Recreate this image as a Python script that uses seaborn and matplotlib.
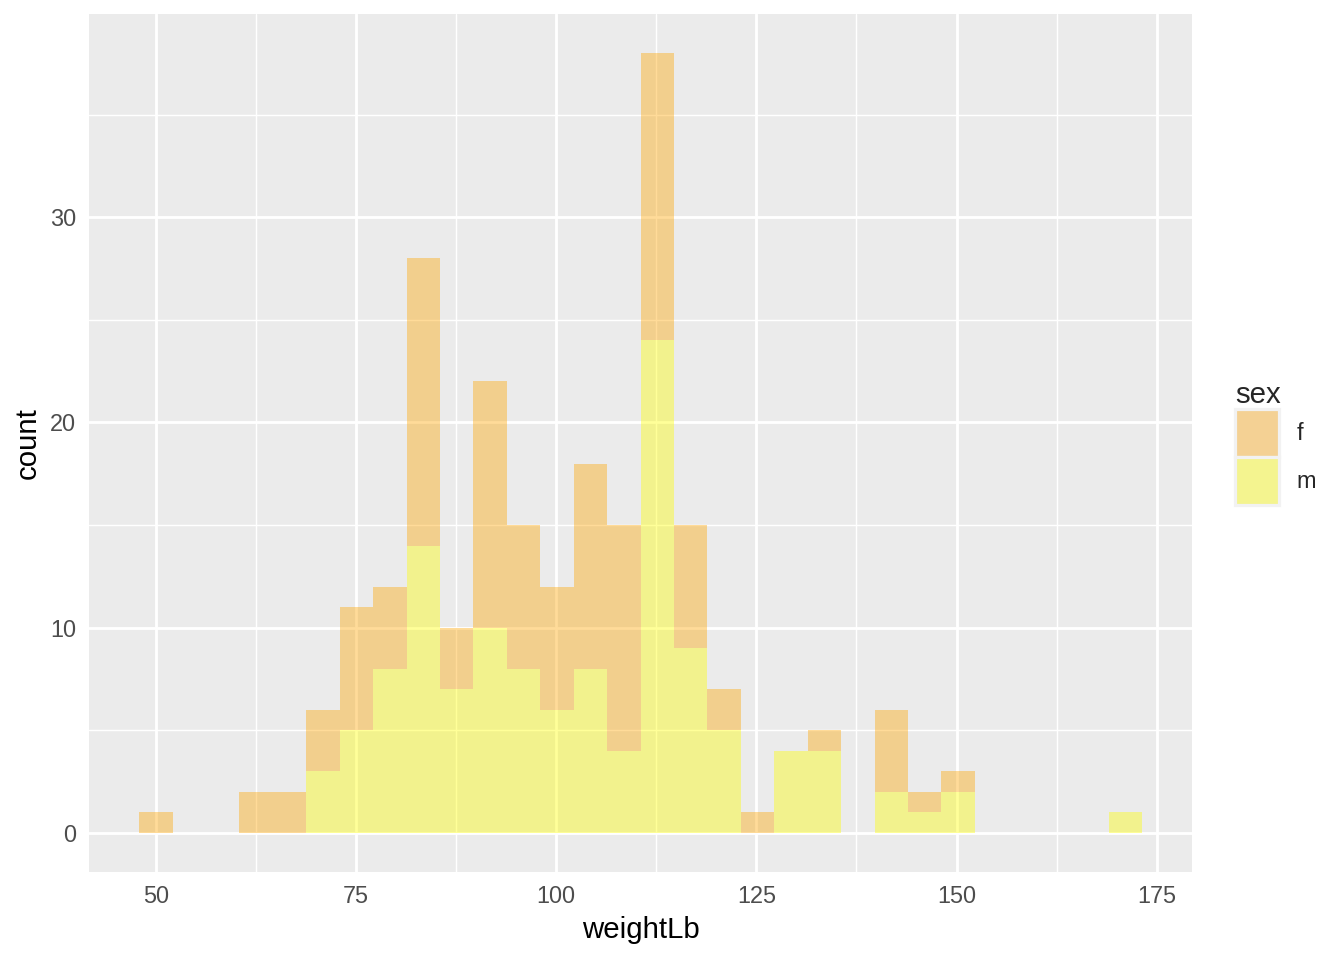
import numpy as np
import pandas as pd
import matplotlib
matplotlib.use("Agg")
import matplotlib.pyplot as plt
import seaborn as sns

# histogram counts, one per bin (30 bins, left to right)
bin_start = 47.9125     # left edge of first bin
bin_width = 4.175
f_counts = [1, 0, 0, 2, 2, 3, 6, 4, 14, 3, 12, 7, 6, 10, 11,
            14, 6, 2, 1, 0, 1, 0, 4, 1, 1, 0, 0, 0, 0, 0]
m_counts = [0, 0, 0, 0, 0, 3, 5, 8, 14, 7, 10, 8, 6, 8, 4,
            24, 9, 5, 0, 4, 4, 0, 2, 1, 2, 0, 0, 0, 0, 1]
sex_levels = ["f", "m"]
x_ticks = [50, 75, 100, 125, 150, 175]
y_ticks = [0, 10, 20, 30]

n_bins = len(f_counts)
edges = bin_start + bin_width * np.arange(n_bins + 1)
centers = (edges[:-1] + edges[1:]) / 2

df = pd.DataFrame({
    "weightLb": np.concatenate([centers, centers]),
    "n": f_counts + m_counts,
    "sex": ["f"] * n_bins + ["m"] * n_bins,
})

# ggplot2-like grey theme
sns.set_theme(style="darkgrid", rc={
    "axes.facecolor": "#EBEBEB",
    "grid.color": "white",
    "axes.edgecolor": "#EBEBEB",
})
plt.rcParams["font.family"] = ["Liberation Sans", "DejaVu Sans"]

fig = plt.figure(figsize=(7, 5), dpi=192)
ax = fig.add_axes([89 / 1344, 1 - 872 / 960, (1192 - 89) / 1344, (872 - 14) / 960])

sns.histplot(data=df, x="weightLb", weights="n", hue="sex", hue_order=sex_levels,
             multiple="stack", binwidth=bin_width,
             binrange=(edges[0], edges[-1] - 1e-6),
             palette={"f": "orange", "m": "yellow"},
             alpha=0.4, linewidth=0, ax=ax)

ax.set_xlim(41.65, 179.4)
ax.set_ylim(-1.9, 39.9)
ax.set_xticks(x_ticks)
ax.set_yticks(y_ticks)
ax.set_xticks([62.5, 87.5, 112.5, 137.5, 162.5], minor=True)
ax.set_yticks([5, 15, 25, 35], minor=True)
ax.grid(which="major", color="white", linewidth=1.07)
ax.grid(which="minor", color="white", linewidth=0.53)
ax.set_axisbelow(True)
for s in ax.spines.values():
    s.set_visible(False)
ax.tick_params(which="major", length=2.75, width=0.8, color="#333333",
               labelsize=8.8, labelcolor="#4D4D4D", pad=2.2)
ax.tick_params(which="minor", length=0)
ax.set_xlabel("weightLb", fontsize=11, color="black", labelpad=3)
ax.set_ylabel("count", fontsize=11, color="black", labelpad=3)

sns.move_legend(ax, "center left", bbox_to_anchor=(1.02, 0.5), frameon=False,
                title="sex", fontsize=8.8, title_fontsize=11,
                handlelength=1.85, handleheight=2.75, labelspacing=0.0,
                handletextpad=0.75, alignment="left")
# legend keys in ggplot sit on a light grey box, so show the blended colour
leg = ax.get_legend()
for h, c in zip(leg.legend_handles, ["#F4D194", "#F4F48F"]):
    h.set_facecolor(c)
    h.set_alpha(1)
    h.set_edgecolor("#F2F2F2")
    h.set_linewidth(1.2)

fig.savefig("out.png", dpi=192)
